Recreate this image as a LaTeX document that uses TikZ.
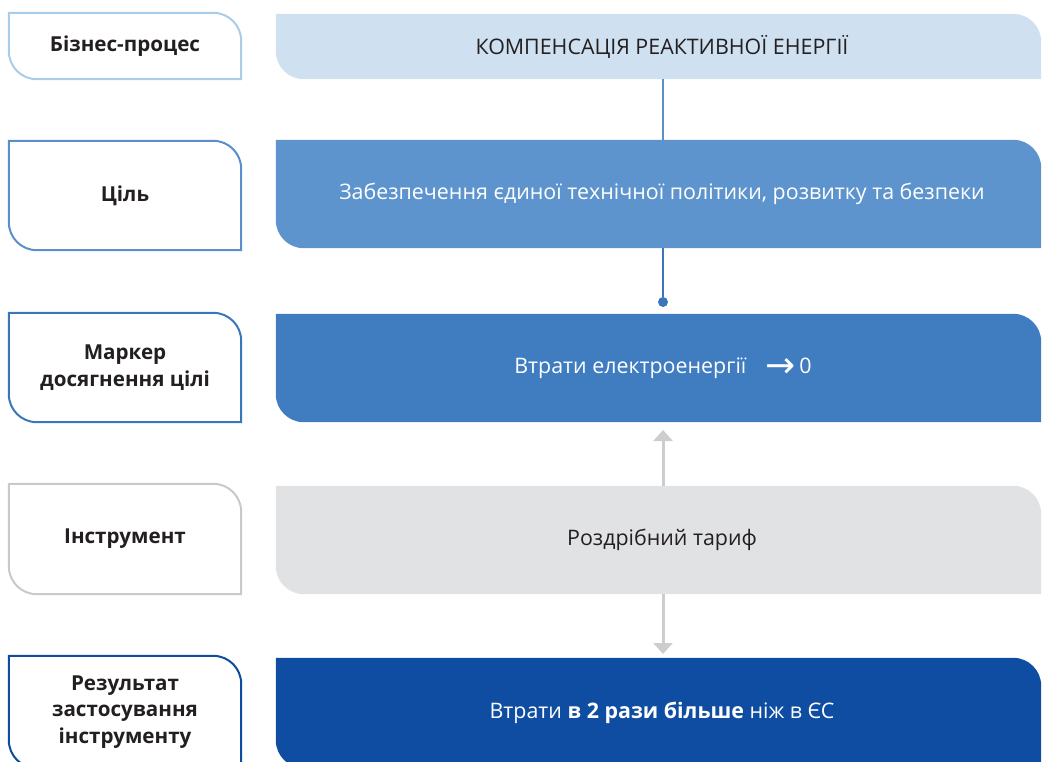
\documentclass[tikz,border=0pt]{standalone}
\usepackage{fontspec}
\setmainfont{Open Sans}
\newfontfamily\symfont{DejaVu Sans}
\usetikzlibrary{backgrounds,calc,arrows.meta}
\definecolor{txt}{HTML}{231F20}
\definecolor{fa}{HTML}{CFE0F0}
\definecolor{ba}{HTML}{A9CCE8}
\definecolor{fb}{HTML}{5E94CE}
\definecolor{bb}{HTML}{5A8FCB}
\definecolor{fc}{HTML}{3F7CC0}
\definecolor{bc}{HTML}{3B76BC}
\definecolor{fd}{HTML}{E1E2E3}
\definecolor{bd}{HTML}{C9C9C9}
\definecolor{fe}{HTML}{0E4DA1}
\definecolor{be}{HTML}{0D4C9E}
\definecolor{garr}{HTML}{CDCDCD}
\tikzset{
  lbl/.style={inner sep=0pt, minimum width=232pt, align=center,
    font=\fontsize{20.6}{26.5}\selectfont\bfseries, text=txt},
  proc/.style={inner sep=0pt, minimum width=765pt,
    font=\fontsize{21.4}{26}\selectfont},
  lborder/.style={fill=white, draw=#1, line width=2pt},
  conn/.style={draw=#1, line width=2.5pt},
  garrow/.style={draw=garr, line width=3pt, -{Triangle[width=19pt,length=11pt]}},
}
\newcommand\tabshape[2]{%
  \path[#2] (#1.north west) -- ($(#1.north east)+(-28pt,0)$)
    arc[start angle=90,end angle=0,radius=28pt] -- (#1.south east)
    -- ($(#1.south west)+(28pt,0)$)
    arc[start angle=270,end angle=180,radius=28pt] -- cycle;}
\newcommand\shiftr{\hspace*{7pt}}
\begin{document}
\begin{tikzpicture}[x=1pt,y=1pt]
\useasboundingbox (0,0) rectangle (1043,761);
\coordinate (ax) at (663,0);
% left labels
\node[lbl, minimum height=66pt]  (l1) at (125,715)   {Бізнес-процес};
\node[lbl, minimum height=109pt] (l2) at (125,565.5) {Ціль};
\node[lbl, minimum height=109pt] (l3) at (125,393.5) {Маркер\\досягнення цілі};
\node[lbl, minimum height=110pt] (l4) at (125,222)   {Інструмент};
\node[lbl, minimum height=112pt] (l5) at (125,49)    {Результат\\застосування\\інструменту};
% right process boxes
\node[proc, minimum height=65pt,  text=txt]   (p1) at (658.5,714.5) {\shiftr КОМПЕНСАЦІЯ РЕАКТИВНОЇ ЕНЕРГІЇ};
\node[proc, minimum height=108pt, text=white] (p2) at (658.5,567) {\shiftr Забезпечення єдиної технічної політики, розвитку та безпеки};
\node[proc, minimum height=108pt, text=white] (p3) at (658.5,393) {\raisebox{-4pt}{\hspace*{9pt}Втрати електроенергії\hspace{19pt}\raisebox{-4pt}{\fontsize{36}{36}\symfont →}\hspace{4pt}0}};
\node[proc, minimum height=108pt, text=txt]   (p4) at (658.5,221) {\shiftr Роздрібний тариф};
\node[proc, minimum height=110pt, text=white] (p5) at (658.5,48) {\shiftr Втрати \textbf{в 2 рази більше} ніж в ЄС};
% connectors
\node[circle, fill=bc, inner sep=0pt, minimum size=10pt] (dot) at (663,459) {};
\coordinate (tipup) at (663,331);
\coordinate (tipdn) at (663,107);
\begin{scope}[on background layer]
  \tabshape{l1}{lborder=ba}
  \tabshape{l2}{lborder=bb}
  \tabshape{l3}{lborder=bc}
  \tabshape{l4}{lborder=bd}
  \tabshape{l5}{lborder=be}
  \tabshape{p1}{fill=fa}
  \tabshape{p2}{fill=fb}
  \tabshape{p3}{fill=fc}
  \tabshape{p4}{fill=fd}
  \tabshape{p5}{fill=fe}
  \draw[conn=bb] (p1.south -| ax) -- (p2.north -| ax);
  \draw[conn=bc] (p2.south -| ax) -- (dot);
  \draw[garrow] (p4.north -| ax) -- (tipup);
  \draw[garrow] (p4.south -| ax) -- (tipdn);
\end{scope}
\end{tikzpicture}
\end{document}
